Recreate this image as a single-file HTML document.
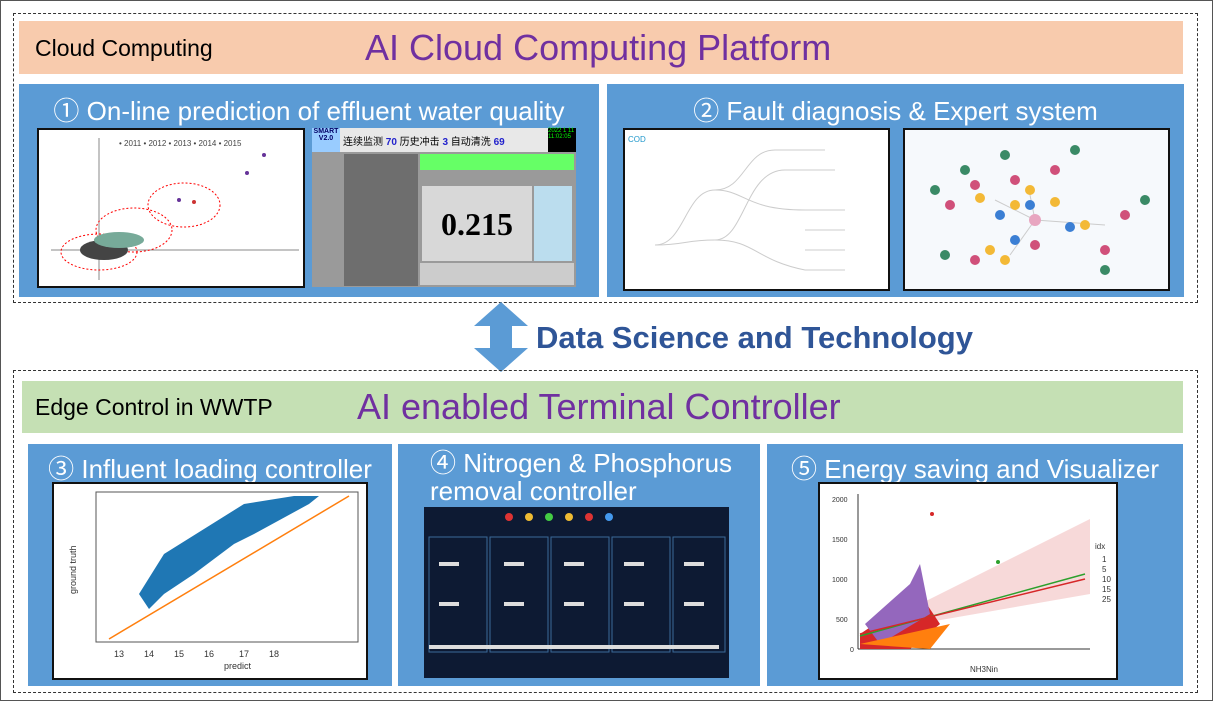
<!DOCTYPE html>
<html><head><meta charset="utf-8"><style>
*{margin:0;padding:0;box-sizing:border-box}
body{width:1213px;height:701px;background:#fff;position:relative;overflow:hidden;font-family:"Liberation Sans","Noto Sans CJK SC",sans-serif}
.a{position:absolute}
.dash{border:1.5px dashed #333}
.blue{background:#5b9bd5}
.t{color:#fff;font-size:26px;white-space:nowrap;text-align:center}
.img{background:#fff;border:2px solid #111}
</style></head><body>
<div class="a" style="left:0;top:0;width:1213px;height:701px;border:1px solid #555"></div>
<div class="a dash" style="left:13px;top:13px;width:1185px;height:290px"></div>
<div class="a" style="left:19px;top:21px;width:1164px;height:53px;background:#f8cbad"></div>
<div class="a" style="left:35px;top:35px;font-size:23px">Cloud Computing</div>
<div class="a" style="left:365px;top:27px;font-size:36px;color:#7030a0;white-space:nowrap">AI Cloud Computing Platform</div>

<div class="a blue" style="left:19px;top:84px;width:580px;height:213px"></div>
<div class="a t" style="left:19px;top:91px;width:580px">① On-line prediction of effluent water quality</div>
<div class="a img" style="left:37px;top:128px;width:268px;height:160px">
<svg width="264" height="156">
<line x1="12" y1="120" x2="260" y2="120" stroke="#888"/><line x1="60" y1="8" x2="60" y2="150" stroke="#888"/>
<text x="80" y="16" font-size="8" fill="#444">• 2011 • 2012 • 2013 • 2014 • 2015</text>
<ellipse cx="60" cy="122" rx="38" ry="18" fill="none" stroke="red" stroke-dasharray="2,2"/>
<ellipse cx="95" cy="100" rx="38" ry="22" fill="none" stroke="red" stroke-dasharray="2,2"/>
<ellipse cx="145" cy="75" rx="36" ry="22" fill="none" stroke="red" stroke-dasharray="2,2"/>
<ellipse cx="65" cy="120" rx="24" ry="10" fill="#444"/>
<ellipse cx="80" cy="110" rx="25" ry="8" fill="#7a9"/>
<circle cx="225" cy="25" r="2" fill="#639"/><circle cx="208" cy="43" r="2" fill="#639"/>
<circle cx="140" cy="70" r="2" fill="#639"/><circle cx="155" cy="72" r="2" fill="#c33"/>
</svg></div>
<div class="a" style="left:312px;top:128px;width:264px;height:159px;background:#9a9a9a">
<div class="a" style="left:0;top:0;width:28px;height:24px;background:#9cf;font-size:7px;text-align:center;font-weight:bold;color:#006">SMART V2.0</div>
<div class="a" style="left:28px;top:0;width:208px;height:24px;background:#e8e8e8;font-size:10px;padding:5px 3px;white-space:nowrap">连续监测 <b style="color:#22c">70</b> 历史冲击 <b style="color:#22c">3</b> 自动清洗 <b style="color:#22c">69</b></div>
<div class="a" style="left:236px;top:0;width:28px;height:24px;background:#000;color:#0f0;font-size:6px">2022 1 11<br>11:02:05</div>
<div class="a" style="left:32px;top:26px;width:74px;height:132px;background:#6e6e6e"></div>
<div class="a" style="left:108px;top:26px;width:154px;height:16px;background:#6f6"></div>
<div class="a" style="left:110px;top:58px;width:110px;height:75px;background:#d8d8d8;font:bold 32px 'Liberation Serif',serif;text-align:center;padding-top:20px">0.215</div>
<div class="a" style="left:222px;top:58px;width:38px;height:75px;background:#bde"></div>
<div class="a" style="left:108px;top:135px;width:154px;height:22px;background:#ccc"></div>
</div>

<div class="a blue" style="left:607px;top:84px;width:577px;height:213px"></div>
<div class="a t" style="left:607px;top:91px;width:577px">② Fault diagnosis &amp; Expert system</div>
<div class="a img" style="left:623px;top:128px;width:267px;height:163px">
<svg width="263" height="159"><g fill="none" stroke="#ccc">
<path d="M30 115 C60 115 60 60 90 60 C120 60 120 20 150 20"/><path d="M30 115 C60 115 60 110 90 110 C120 110 120 40 160 40"/>
<path d="M90 60 C120 60 120 80 180 80"/><path d="M90 110 C130 110 130 130 180 140"/>
<path d="M150 20 H200 M160 40 H210 M180 80 H220 M180 100 H220 M180 120 H220 M180 140 H220"/></g>
<text x="3" y="12" font-size="8" fill="#29c">COD</text></svg></div>
<div class="a img" style="left:903px;top:128px;width:267px;height:163px;background:#f6f9fc">
<svg width="263" height="159"><g stroke="#ccc">
<line x1="130" y1="90" x2="90" y2="70"/><line x1="130" y1="90" x2="200" y2="95"/><line x1="130" y1="90" x2="105" y2="125"/><line x1="130" y1="90" x2="125" y2="65"/></g>
<g fill="#3a8a66"><circle cx="30" cy="60" r="5"/><circle cx="60" cy="40" r="5"/><circle cx="170" cy="20" r="5"/><circle cx="240" cy="70" r="5"/><circle cx="40" cy="125" r="5"/><circle cx="200" cy="140" r="5"/><circle cx="100" cy="25" r="5"/></g>
<g fill="#d0507a"><circle cx="45" cy="75" r="5"/><circle cx="70" cy="55" r="5"/><circle cx="150" cy="40" r="5"/><circle cx="220" cy="85" r="5"/><circle cx="70" cy="130" r="5"/><circle cx="130" cy="115" r="5"/><circle cx="200" cy="120" r="5"/><circle cx="110" cy="50" r="5"/></g>
<g fill="#f3b936"><circle cx="75" cy="68" r="5"/><circle cx="110" cy="75" r="5"/><circle cx="125" cy="60" r="5"/><circle cx="150" cy="72" r="5"/><circle cx="180" cy="95" r="5"/><circle cx="100" cy="130" r="5"/><circle cx="85" cy="120" r="5"/></g>
<g fill="#3b7fd4"><circle cx="125" cy="75" r="5"/><circle cx="165" cy="97" r="5"/><circle cx="110" cy="110" r="5"/><circle cx="95" cy="85" r="5"/></g>
<circle cx="130" cy="90" r="6" fill="#e8a6c0"/></svg></div>

<svg class="a" style="left:472px;top:300px" width="58" height="74"><path d="M29 2 L56 26 L40 26 L40 48 L56 48 L29 72 L2 48 L18 48 L18 26 L2 26 Z" fill="#5b9bd5"/></svg>
<div class="a" style="left:536px;top:320px;font-size:31px;font-weight:bold;color:#2f5597;white-space:nowrap">Data Science and Technology</div>

<div class="a dash" style="left:13px;top:370px;width:1185px;height:323px"></div>
<div class="a" style="left:22px;top:381px;width:1161px;height:52px;background:#c5e0b4"></div>
<div class="a" style="left:35px;top:394px;font-size:23px;white-space:nowrap">Edge Control in WWTP</div>
<div class="a" style="left:357px;top:386px;font-size:36px;color:#7030a0;white-space:nowrap">AI enabled Terminal Controller</div>

<div class="a blue" style="left:28px;top:444px;width:364px;height:242px"></div>
<div class="a t" style="left:28px;top:449px;width:364px">③ Influent loading controller</div>
<div class="a img" style="left:52px;top:482px;width:316px;height:198px">
<svg width="312" height="194"><rect x="42" y="8" width="262" height="150" fill="none" stroke="#555"/>
<path d="M85 110 L110 70 L150 45 L190 20 L240 12 L265 12 L255 20 L200 50 L180 60 L140 90 L110 110 L95 125 Z" fill="#1f77b4"/>
<line x1="55" y1="155" x2="295" y2="12" stroke="#ff7f0e" stroke-width="1.5"/>
<text x="170" y="185" font-size="9" fill="#333">predict</text>
<text x="22" y="110" font-size="9" fill="#333" transform="rotate(-90 22 110)">ground truth</text>
<g font-size="9" fill="#333"><text x="60" y="173">13</text><text x="90" y="173">14</text><text x="120" y="173">15</text><text x="150" y="173">16</text><text x="185" y="173">17</text><text x="215" y="173">18</text></g></svg></div>

<div class="a blue" style="left:398px;top:444px;width:362px;height:242px"></div>
<div class="a t" style="left:430px;top:449px;text-align:left;line-height:28px">④ Nitrogen &amp; Phosphorus<br>removal controller</div>
<div class="a" style="left:424px;top:507px;width:305px;height:171px;background:#0d1a33">
<svg width="305" height="171"><g stroke="#3a6a9a" fill="none">
<rect x="5" y="30" width="58" height="115"/><rect x="66" y="30" width="58" height="115"/><rect x="127" y="30" width="58" height="115"/><rect x="188" y="30" width="58" height="115"/><rect x="249" y="30" width="52" height="115"/></g>
<g fill="#ddd"><rect x="15" y="55" width="20" height="4"/><rect x="80" y="55" width="20" height="4"/><rect x="140" y="55" width="20" height="4"/><rect x="200" y="55" width="20" height="4"/><rect x="260" y="55" width="20" height="4"/>
<rect x="15" y="95" width="20" height="4"/><rect x="80" y="95" width="20" height="4"/><rect x="140" y="95" width="20" height="4"/><rect x="200" y="95" width="20" height="4"/><rect x="260" y="95" width="20" height="4"/>
<rect x="5" y="138" width="290" height="4"/></g>
<g><circle cx="85" cy="10" r="4" fill="#d33"/><circle cx="105" cy="10" r="4" fill="#eb3"/><circle cx="125" cy="10" r="4" fill="#4c4"/><circle cx="145" cy="10" r="4" fill="#eb3"/><circle cx="165" cy="10" r="4" fill="#d33"/><circle cx="185" cy="10" r="4" fill="#49e"/></g></svg></div>

<div class="a blue" style="left:767px;top:444px;width:416px;height:242px"></div>
<div class="a t" style="left:767px;top:449px;width:416px">⑤ Energy saving and Visualizer</div>
<div class="a img" style="left:818px;top:482px;width:300px;height:198px">
<svg width="296" height="194"><line x1="38" y1="10" x2="38" y2="165" stroke="#333"/><line x1="38" y1="165" x2="270" y2="165" stroke="#333"/>
<path d="M40 150 L270 35 L270 110 Z" fill="#f4c9c9" opacity=".7"/>
<path d="M40 150 L100 110 L120 140 L90 165 L40 165 Z" fill="#d62728"/>
<path d="M45 140 L90 100 L100 80 L110 130 L60 160 Z" fill="#9467bd"/>
<path d="M40 160 L130 140 L110 165 Z" fill="#ff7f0e"/>
<line x1="40" y1="152" x2="265" y2="90" stroke="#2ca02c" stroke-width="1.5"/><line x1="40" y1="150" x2="265" y2="95" stroke="#d62728" stroke-width="1.5"/>
<circle cx="112" cy="30" r="2" fill="#d62728"/><circle cx="178" cy="78" r="2" fill="#2ca02c"/>
<text x="150" y="188" font-size="8" fill="#333">NH3Nin</text>
<g font-size="8" fill="#333"><text x="275" y="65">idx</text><text x="282" y="78">1</text><text x="282" y="88">5</text><text x="282" y="98">10</text><text x="282" y="108">15</text><text x="282" y="118">25</text></g>
<g font-size="7" fill="#333"><text x="12" y="18">2000</text><text x="12" y="58">1500</text><text x="12" y="98">1000</text><text x="16" y="138">500</text><text x="30" y="168">0</text></g></svg></div>
</body></html>
